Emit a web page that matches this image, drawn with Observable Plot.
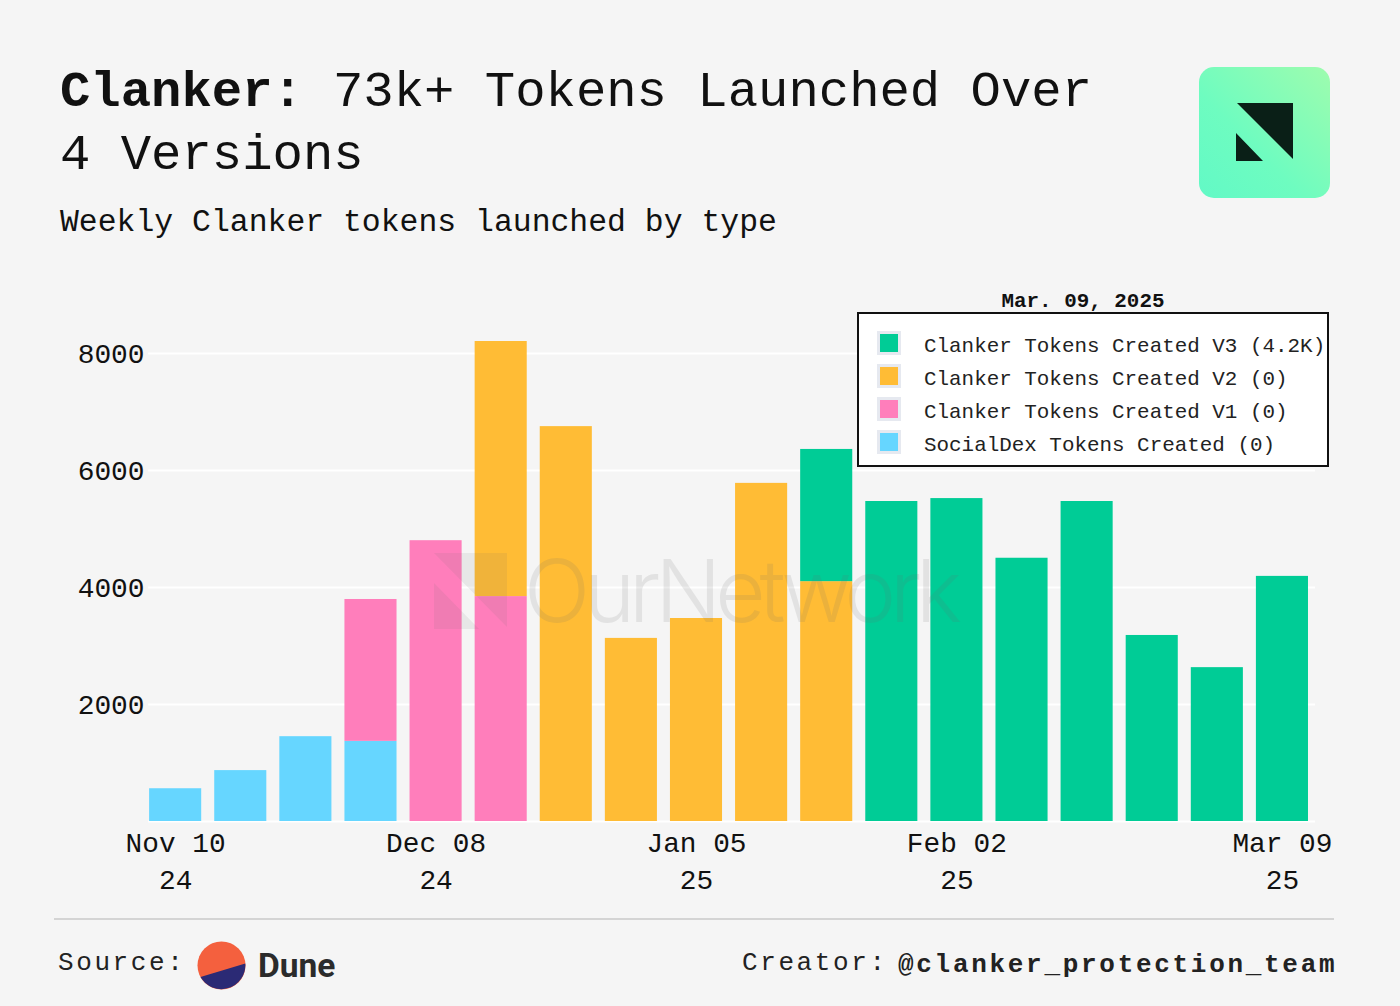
<!DOCTYPE html>
<html>
<head>
<meta charset="utf-8">
<script src="https://cdn.jsdelivr.net/npm/d3@7"></script>
<script src="https://cdn.jsdelivr.net/npm/@observablehq/plot@0.6"></script>
<style>
html,body{margin:0;padding:0;background:#f5f5f5;}
#page{position:relative;width:1400px;height:1006px;overflow:hidden;background:#f5f5f5;font-family:"Liberation Mono",monospace;color:#111;}
#page>*{position:absolute;}
.tl{font-size:50.6px;line-height:63px;white-space:pre;font-weight:400;}
#subtitle{left:60px;top:204px;margin:0;font-size:31.45px;line-height:38px;font-weight:400;white-space:pre;}
#chart{left:0;top:280px;}
#chart svg{display:block;background:transparent;}
#overlay{left:0;top:0;pointer-events:none;}
#legend-date{left:857px;width:452px;top:290px;text-align:center;font-size:20.9px;line-height:24px;font-weight:700;}
#legend{left:857px;top:312px;width:468px;height:151px;background:#fff;border:2px solid #111;}
.li{position:absolute;left:65px;font-size:20.9px;line-height:26px;white-space:pre;color:#222;}
.sw{position:absolute;left:18px;width:18px;height:18px;border:3px solid #e6e9f0;}
#rule{left:54px;top:918px;width:1280px;height:2px;background:#d4d4d4;}
.foot{font-size:26px;letter-spacing:2.6px;line-height:30px;white-space:pre;color:#222;}
#dune{left:258px;top:946px;font-family:Roboto,Inter,sans-serif;font-weight:700;font-size:33.5px;line-height:40px;color:#2b2b2b;}
</style>
</head>
<body>
<div id="page">
  <div class="tl" style="left:60px;top:61px;font-weight:700">Clanker:</div>
  <div class="tl" style="left:333px;top:61px">73k+ Tokens Launched Over</div>
  <div class="tl" style="left:60px;top:124px">4 Versions</div>
  <p id="subtitle">Weekly Clanker tokens launched by type</p>
  <svg style="left:1199px;top:67px" width="131" height="131">
    <defs>
      <linearGradient id="lg" x1="1" y1="0" x2="0" y2="1">
        <stop offset="0" stop-color="#9efcae"/><stop offset="0.6" stop-color="#6efcc0"/><stop offset="1" stop-color="#62f9c6"/>
      </linearGradient>
    </defs>
    <rect width="131" height="131" rx="15" fill="url(#lg)"/>
    <path d="M38 36H94V92Z M37 66V94H64Z" fill="#0a1f17"/>
  </svg>
  <div id="chart"></div>
  <svg id="overlay" width="1400" height="1006">
    <g fill="#6a6a6a">
      <path opacity="0.1" d="M434 553H507V627Z M434 583V629H479Z"/>
      <text opacity="0.13" x="524" y="622" font-family="Inter,Roboto,sans-serif" font-size="87" font-weight="300" textLength="438">OurNetwork</text>
    </g>
  </svg>
  <div id="legend-date"></div>
  <div id="legend"></div>
  <div id="rule"></div>
  <div class="foot" style="left:58px;top:948px">Source:</div>
  <svg style="left:197px;top:941px" width="50" height="50">
    <circle cx="24.5" cy="24.5" r="24" fill="#f4603e"/>
    <path d="M3.5 36 L48.3 22.5 A24 24 0 0 1 3.5 36Z" fill="#2b2a75"/>
  </svg>
  <div id="dune">Dune</div>
  <div class="foot" style="left:742px;top:948px">Creator:</div>
  <div class="foot" style="left:898px;top:950px;font-weight:700;letter-spacing:2.7px">@clanker_protection_team</div>
</div>
<script>
const weeks = ["Nov 10\n24","Nov 17","Nov 24","Dec 01","Dec 08\n24","Dec 15","Dec 22","Dec 29","Jan 05\n25","Jan 12","Jan 19","Jan 26","Feb 02\n25","Feb 09","Feb 16","Feb 23","Mar 02","Mar 09\n25"];
const tickLabels = ["Nov 10\n24","Dec 08\n24","Jan 05\n25","Feb 02\n25","Mar 09\n25"];
const yTicks = [2000,4000,6000,8000];
const socialDex = [560,870,1450,1370,0,0,0,0,0,0,0,0,0,0,0,0,0,0];
const v1 =        [0,0,0,2425,4800,3845,0,0,0,0,0,0,0,0,0,0,0,0];
const v2 =        [0,0,0,0,0,4360,6750,3130,3470,5780,4100,0,0,0,0,0,0,0];
const v3 =        [0,0,0,0,0,0,0,0,0,0,2260,5470,5520,4500,5470,3180,2630,4190];
const seriesNames = ["SocialDex Tokens Created","Clanker Tokens Created V1","Clanker Tokens Created V2","Clanker Tokens Created V3"];
const seriesColors = ["#66d6ff","#ff7ebb","#ffbc35","#00cc96"];
const seriesValues = [socialDex,v1,v2,v3];
const legendOrder = ["Clanker Tokens Created V3 (4.2K)","Clanker Tokens Created V2 (0)","Clanker Tokens Created V1 (0)","SocialDex Tokens Created (0)"];
const legendColors = ["#00cc96","#ffbc35","#ff7ebb","#66d6ff"];
const legendDate = "Mar. 09, 2025";

const rows = seriesNames.flatMap((s,i)=>weeks.map((w,j)=>({week:w,series:s,value:seriesValues[i][j]})));
const font = '"Liberation Mono",monospace';

const chart = Plot.plot({
  width:1400,height:640,
  marginLeft:136.1,marginRight:79,marginTop:43.75,marginBottom:99,
  style:{background:"transparent",fontFamily:font,color:"#111",overflow:"visible"},
  x:{domain:weeks,padding:0.2,round:false,label:null},
  y:{domain:[0,8500],label:null},
  color:{domain:seriesNames,range:seriesColors},
  marks:[
    Plot.ruleY([0,...yTicks],{stroke:"#fff",strokeWidth:2,insetLeft:12,insetRight:6}),
    Plot.barY(rows,{x:"week",y:"value",fill:"series",order:null}),
    Plot.axisY({ticks:yTicks,tickSize:0,tickPadding:0,dx:8,dy:1,fontSize:27.9,label:null,tickFormat:d=>String(d),fill:"#111"}),
    Plot.axisX({ticks:tickLabels,tickSize:0,tickPadding:4,fontSize:27.8,lineHeight:1.33,label:null,fill:"#111"})
  ]
});
document.getElementById("chart").appendChild(chart);

document.getElementById("legend-date").textContent = legendDate;
const lg = document.getElementById("legend");
legendOrder.forEach((t,i)=>{
  const top = 19+i*33;
  const sw = document.createElement("div");
  sw.className="sw"; sw.style.top=(top-2)+"px"; sw.style.background=legendColors[i];
  lg.appendChild(sw);
  const l = document.createElement("div");
  l.className="li"; l.style.top=(top+1)+"px"; l.textContent=t;
  lg.appendChild(l);
});
</script>
</body>
</html>
